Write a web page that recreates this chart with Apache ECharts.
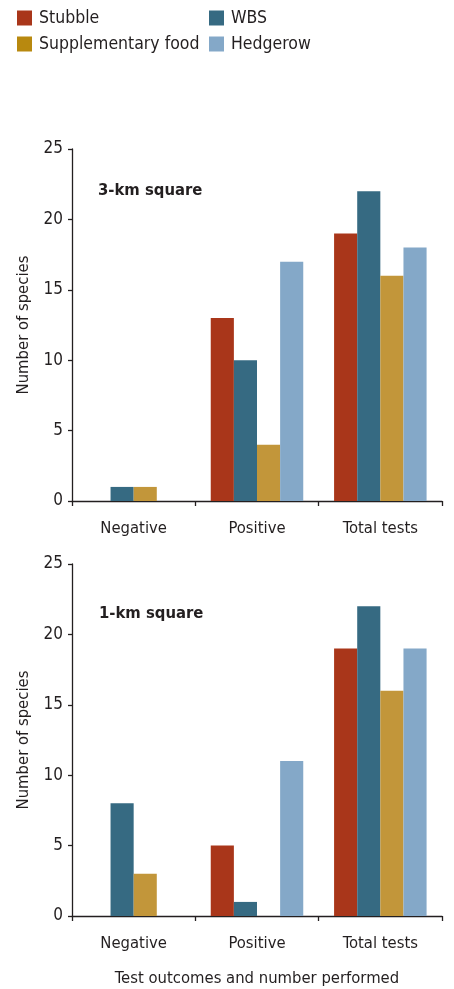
<!DOCTYPE html>
<html><head><meta charset="utf-8">
<script src="https://cdn.jsdelivr.net/npm/echarts@6/dist/echarts.min.js"></script>
<style>html,body{margin:0;padding:0;background:#fff}#c{width:454px;height:989px}</style>
</head><body><div id="c"></div>
<script>
const categories = ['Negative', 'Positive', 'Total tests'];
const seriesNames = ['Stubble', 'WBS', 'Supplementary food', 'Hedgerow'];
const colors = ['#A9361A', '#366A82', '#C2963A', '#84A8C8'];
const legendColors = ['#A9361A', '#366A82', '#B8890F', '#84A8C8'];
const km3Values = [[0, 13, 19], [1, 10, 22], [1, 4, 16], [0, 17, 18]];
const km1Values = [[0, 5, 19], [8, 1, 22], [3, 0, 16], [0, 11, 19]];
const yTicks = [0, 5, 10, 15, 20, 25];

const font = "'Liberation Sans Narrow', 'DejaVu Sans Condensed', 'Noto Sans', sans-serif";
const ink = '#231F20';

const chart = echarts.init(document.getElementById('c'));
const grids = [
  {left: 72, top: 149, width: 370, height: 352},
  {left: 72, top: 564, width: 370, height: 352}
];
function xAxis(i, withName) {
  return {
    type: 'category', gridIndex: i, data: categories,
    axisLine: {lineStyle: {color: ink, width: 1.3}},
    axisTick: {show: true, length: 5, lineStyle: {color: ink, width: 1.3}},
    axisLabel: {color: ink, fontFamily: font, fontSize: 16.5, margin: 19},
    name: withName ? 'Test outcomes and number performed' : '',
    nameLocation: 'middle', nameGap: 54,
    nameTextStyle: {color: ink, fontFamily: font, fontSize: 16.5}
  };
}
function yAxis(i) {
  return {
    type: 'value', gridIndex: i, min: yTicks[0], max: yTicks[yTicks.length - 1], interval: 5,
    axisLine: {show: true, lineStyle: {color: ink, width: 1.3}},
    axisTick: {show: true, length: 4, lineStyle: {color: ink, width: 1.3}},
    splitLine: {show: false},
    axisLabel: {color: ink, fontFamily: font, fontSize: 17, margin: 9},
    name: 'Number of species', nameLocation: 'middle', nameGap: 38,
    nameTextStyle: {color: ink, fontFamily: font, fontSize: 16.5}
  };
}
const series = [];
[km3Values, km1Values].forEach((vals, gi) => {
  seriesNames.forEach((n, si) => {
    series.push({
      type: 'bar', name: n, xAxisIndex: gi, yAxisIndex: gi,
      data: vals[si], barGap: '0%', barCategoryGap: '25%',
      itemStyle: {color: colors[si], borderWidth: 0}, emphasis: {disabled: true}
    });
  });
});
const legendBase = {
  orient: 'vertical', itemWidth: 15, itemHeight: 15, itemGap: 8, icon: 'rect',
  textStyle: {color: ink, fontFamily: font, fontSize: 17.5, padding: [0, 0, 0, 2]},
  selectedMode: false, padding: 0
};
chart.setOption({
  animation: false,
  grid: grids,
  title: [
    {text: '3-km square', left: 98, top: 182, padding: 0, textStyle: {color: ink, fontFamily: font, fontSize: 16.5, fontWeight: 'bold'}},
    {text: '1-km square', left: 99, top: 605, padding: 0, textStyle: {color: ink, fontFamily: font, fontSize: 16.5, fontWeight: 'bold'}}
  ],
  legend: [
    Object.assign({}, legendBase, {left: 17, top: 9, data: [
      {name: seriesNames[0], itemStyle: {color: legendColors[0]}},
      {name: seriesNames[2], itemStyle: {color: legendColors[2]}}]}),
    Object.assign({}, legendBase, {left: 209, top: 9, data: [
      {name: seriesNames[1], itemStyle: {color: legendColors[1]}},
      {name: seriesNames[3], itemStyle: {color: legendColors[3]}}]})
  ],
  xAxis: [xAxis(0, false), xAxis(1, true)],
  yAxis: [yAxis(0), yAxis(1)],
  series: series
});
</script></body></html>
